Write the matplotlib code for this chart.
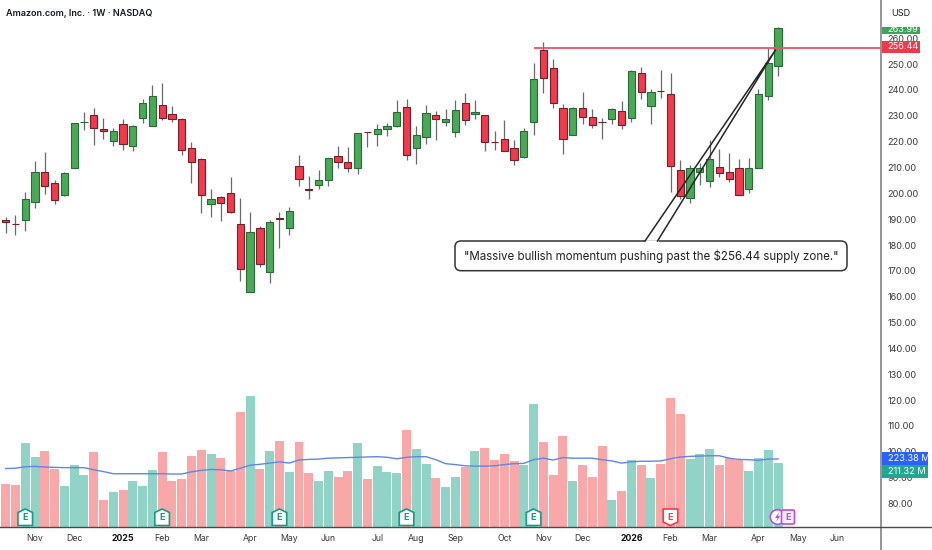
"""AMZN weekly candles with volume and a supply zone callout. Output: out.png"""
import matplotlib
matplotlib.use("Agg")
import matplotlib.pyplot as plt
from matplotlib.patches import FancyBboxPatch, Polygon, Circle, Rectangle

plt.rcParams["font.family"] = ["Inter", "DejaVu Sans"]

# ---------- data ----------
opens = [189.8, 188.2, 189.7, 196.5, 208.4, 204.1, 199.4, 210.0, 227.6, 230.2,
         225.0, 220.1, 226.7, 218.2, 229.0, 226.2, 234.1, 230.6, 228.8, 217.4,
         213.4, 195.7, 198.7, 200.0, 188.1, 161.9, 186.7, 169.6, 190.3, 186.5,
         210.7, 201.5, 203.1, 205.0, 214.6, 212.2, 209.9, 223.8, 223.1, 225.0,
         225.9, 233.3, 217.4, 221.9, 230.2, 227.5, 223.6, 234.8, 230.8, 230.4,
         220.0, 220.9, 217.7, 213.9, 227.7, 255.3, 248.4, 233.1, 222.7, 233.1,
         229.4, 227.8, 228.8, 231.9, 229.0, 246.7, 233.9, 239.8, 238.3, 208.9,
         198.2, 208.4, 204.6, 210.3, 208.1, 209.8, 201.5, 209.9, 237.5, 249.3]
highs = [190.7, 191.5, 200.5, 212.4, 215.9, 205.3, 208.1, 227.1, 231.3, 232.9,
         229.2, 225.3, 228.8, 226.4, 236.4, 241.8, 242.6, 233.9, 229.0, 220.0,
         213.8, 201.5, 199.1, 206.2, 198.3, 192.6, 187.4, 189.7, 192.9, 194.7,
         214.8, 206.6, 208.9, 213.5, 218.4, 218.0, 223.2, 223.9, 226.7, 227.1,
         236.0, 236.5, 226.2, 234.1, 232.0, 232.6, 236.0, 238.7, 236.0, 230.4,
         224.2, 228.2, 220.6, 225.4, 250.6, 258.6, 251.9, 234.6, 233.3, 239.1,
         232.5, 229.1, 232.9, 235.6, 247.7, 249.0, 240.4, 247.8, 246.4, 212.9,
         211.0, 211.6, 220.5, 217.0, 215.6, 213.2, 213.5, 240.5, 256.2, 264.5]
lows = [184.8, 183.8, 185.3, 194.4, 199.7, 196.0, 199.1, 209.8, 224.5, 218.8,
        221.2, 218.3, 216.8, 216.4, 227.1, 226.1, 228.4, 227.5, 214.8, 204.2,
        192.5, 191.0, 189.4, 192.3, 166.1, 161.7, 171.6, 165.3, 178.8, 184.0,
        202.8, 197.9, 201.8, 203.0, 209.7, 208.4, 207.5, 218.0, 218.4, 222.2,
        225.8, 213.0, 211.5, 219.2, 220.8, 226.1, 221.9, 226.3, 228.9, 216.5,
        216.8, 216.2, 211.1, 213.8, 222.7, 238.7, 233.0, 215.2, 222.4, 227.0,
        225.3, 221.2, 226.8, 224.8, 227.5, 236.5, 227.0, 237.0, 200.4, 197.8,
        196.1, 203.2, 202.6, 206.4, 204.5, 199.3, 200.0, 209.7, 236.0, 245.5]
closes = [189.0, 188.0, 197.8, 208.1, 202.7, 197.3, 207.9, 227.1, 227.8, 225.2,
          224.0, 224.3, 219.1, 225.9, 234.8, 237.7, 229.3, 228.8, 216.6, 212.3,
          199.4, 197.8, 196.1, 192.8, 170.9, 184.9, 172.6, 189.0, 190.1, 193.0,
          205.7, 201.3, 205.0, 213.5, 212.1, 209.7, 223.2, 223.6, 224.9, 226.1,
          231.3, 214.7, 222.7, 231.1, 228.9, 228.9, 232.4, 228.2, 231.6, 220.0,
          219.8, 216.5, 213.0, 224.2, 244.1, 244.6, 234.8, 220.9, 233.1, 229.7,
          226.3, 227.6, 232.5, 226.6, 247.2, 239.2, 239.1, 239.6, 210.4, 198.8,
          210.0, 209.9, 213.2, 207.7, 205.5, 199.5, 209.7, 238.3, 250.6, 263.99]
volumes = [141, 138, 276, 229, 250, 192, 135, 205, 170, 245,
           88, 115, 123, 151, 134, 186, 245, 150, 158, 232,
           252, 239, 226, 184, 377, 431, 189, 249, 283, 180,
           278, 178, 150, 183, 165, 185, 277, 159, 201, 180,
           177, 320, 257, 206, 162, 130, 164, 198, 250, 260,
           221, 241, 218, 205, 405, 280, 172, 298, 152, 203,
           163, 266, 90, 118, 219, 205, 161, 206, 423, 372,
           222, 241, 255, 205, 226, 221, 183, 228, 252, 211.32]
volume_ma = [192, 193, 198, 199, 197, 196, 195, 195, 195, 188,
             182, 175, 175, 175, 175, 175, 175, 174, 174, 181,
             186, 189, 188, 184, 193, 203, 206, 210, 214, 210,
             220, 222, 223, 226, 227, 228, 229, 230, 231, 229,
             224, 229, 231, 231, 221, 208, 205, 201, 200, 200,
             201, 205, 208, 209, 221, 226, 220, 228, 226, 226,
             226, 221, 217, 210, 214, 216, 216, 217, 224, 230,
             232, 233, 234, 234, 226, 222, 221, 219, 223, 223.38]

price_ticks = [80, 90, 100, 110, 120, 130, 140, 150, 160, 170, 180, 190,
               200, 210, 220, 230, 240, 250, 260]
month_pos = [3, 7, 12, 16, 20, 25, 29, 33, 38, 42, 46, 51, 55, 59, 64, 68, 72, 77, 81, 85]
month_labels = ["Nov", "Dec", "2025", "Feb", "Mar", "Apr", "May", "Jun", "Jul", "Aug",
                "Sep", "Oct", "Nov", "Dec", "2026", "Feb", "Mar", "Apr", "May", "Jun"]
earnings_pos = [2, 16, 28, 41, 54]
supply_level = 256.44

# ---------- colours ----------
C_UP = "#4aa957"
C_UP_BD = "#2a6a38"
C_DN = "#f23a4c"
C_DN_BD = "#6e222c"
C_VOL_UP = "#92d3c8"
C_VOL_DN = "#f8a8a8"
C_MA = "#5f86e8"
C_TEXT = "#3a3a3a"
C_EARN = "#0f9d84"
C_PURPLE = "#b44fe0"

# ---------- canvas: 932x550 px, plot area ends at x=881, y=527 ----------
W, H = 932, 550
fig = plt.figure(figsize=(W / 100, H / 100), dpi=100, facecolor="white")
ax = fig.add_axes([0, (H - 527) / H, 881 / W, 527 / H])
ax_vol = ax.twinx()
ax_vol.set_axis_off()
ax_vol.set_ylim(0, 1731)

xs = list(range(len(closes)))
ax.set_xlim(-0.583, 89.53)
ax.set_ylim(70.9, 274.82)

# volume
vol_cols = [C_VOL_DN if c < o else C_VOL_UP for o, c in zip(opens, closes)]
ax_vol.bar(xs, volumes, width=0.92, color=vol_cols, linewidth=0)
ax_vol.plot(xs, volume_ma, color=C_MA, lw=1.0)

# candles
for x, o, h, l, c in zip(xs, opens, highs, lows, closes):
    up = c >= o
    ax.vlines(x, l, h, color="#6a6a6a", lw=0.9, zorder=2)
    ax.bar(x, abs(c - o), bottom=min(o, c), width=0.74,
           color=C_UP if up else C_DN, edgecolor=C_UP_BD if up else C_DN_BD,
           linewidth=0.8, zorder=3)

# supply line
ax.hlines(supply_level, 54.0, 89.53, color="#f0506a", lw=1.3, zorder=4)

# axes
for s in ax.spines.values():
    s.set_visible(False)
ax.yaxis.tick_right()
ax.set_yticks(price_ticks)
ax.set_yticklabels([f"{p:.2f}" for p in price_ticks])
ax.tick_params(axis="y", length=0, pad=4.8, labelsize=6.6, labelcolor=C_TEXT)
ax.set_xticks(month_pos)
ax.set_xticklabels(month_labels)
ax.tick_params(axis="x", length=0, pad=5, labelsize=6.3, labelcolor=C_TEXT)
for lbl in ax.get_xticklabels():
    if lbl.get_text() in ("2025", "2026"):
        lbl.set_fontweight("bold")
        lbl.set_color("#111111")

# ---------- overlay in pixels ----------
ov = fig.add_axes([0, 0, 1, 1], facecolor="none")
ov.set_xlim(0, W)
ov.set_ylim(H, 0)
ov.axis("off")

ov.plot([881, 881], [0, 550], color="#8c8c8c", lw=1.3)
ov.plot([0, 932], [527, 527], color="#4a4a4a", lw=1.0)

ov.text(6, 13.5, "Amazon.com, Inc. · 1W · NASDAQ", fontsize=6.5, fontweight="semibold",
        color="#131722", va="center")
ov.text(891, 13.5, "USD", fontsize=6.6, color="#222222", va="center")


def price_tag(y0, y1, x1, color, label, tc="white", ty=None):
    box = Rectangle((881.5, y0), x1 - 881.5, y1 - y0, facecolor=color, edgecolor="none", zorder=6)
    ov.add_patch(box)
    t = ov.text(887.5, (y0 + y1) / 2 if ty is None else ty, label, color=tc,
                fontsize=6.6, va="center", zorder=7)
    t.set_clip_path(box)


price_tag(27, 33.5, 920, "#3ba655", "263.99", ty=29)
price_tag(40.5, 53, 920, "#f2384b", "256.44")
price_tag(452, 465, 928, "#2962ff", "223.38 M")
price_tag(465, 478, 928, "#22a68f", "211.32 M")


def badge(cx, color, up=True, fc="white"):
    # house shaped earnings flag
    top, bot = 509, 525.5
    if up:
        pts = [(cx, top), (cx + 7.3, top + 3.5), (cx + 7.3, bot), (cx - 7.3, bot), (cx - 7.3, top + 3.5)]
    else:
        pts = [(cx - 7.3, top), (cx + 7.3, top), (cx + 7.3, bot - 3.5), (cx, bot), (cx - 7.3, bot - 3.5)]
    ov.add_patch(Polygon(pts, closed=True, facecolor=fc, edgecolor=color, lw=1.2, zorder=6))
    ov.text(cx, 517.3, "E", color=color, fontsize=6.5, fontweight="bold",
            ha="center", va="center", zorder=7)


for i in earnings_pos:
    badge(5.7 + 9.776 * i, C_EARN)
badge(5.7 + 9.776 * 68, C_DN, up=False)

# dividend bolt and upcoming earnings
ov.add_patch(Circle((777.5, 517), 7.3, facecolor="white", edgecolor=C_PURPLE, lw=1.2, zorder=6))
ov.add_patch(Polygon([(779.5, 511.5), (775, 518), (777.6, 518), (775.8, 522.5), (780.2, 516), (777.8, 516)],
                     closed=True, facecolor=C_PURPLE, edgecolor="none", zorder=7))
ov.add_patch(FancyBboxPatch((781.5, 510), 13, 14, boxstyle="round,pad=0,rounding_size=1.5",
                            facecolor="#f7ecfc", edgecolor=C_PURPLE, lw=1.2, zorder=8))
ov.text(788, 517.2, "E", color=C_PURPLE, fontsize=6.5, fontweight="bold",
        ha="center", va="center", zorder=9)

# callout
ov.add_patch(FancyBboxPatch((455, 241), 392, 29.7, boxstyle="round,pad=0,rounding_size=6",
                            facecolor="white", edgecolor="#333333", lw=1.1, zorder=6))
ov.plot([646, 657], [241, 241], color="white", lw=1.8, zorder=7)
ov.plot([645, 775.5, 657.5], [241, 50, 241], color="#262626", lw=1.1, zorder=7)
ov.text(464, 256, '"Massive bullish momentum pushing past the $256.44 supply zone."',
        fontsize=8.3, color="#222222", va="center", zorder=8)

fig.savefig("out.png", dpi=100, facecolor="white")
plt.close(fig)
